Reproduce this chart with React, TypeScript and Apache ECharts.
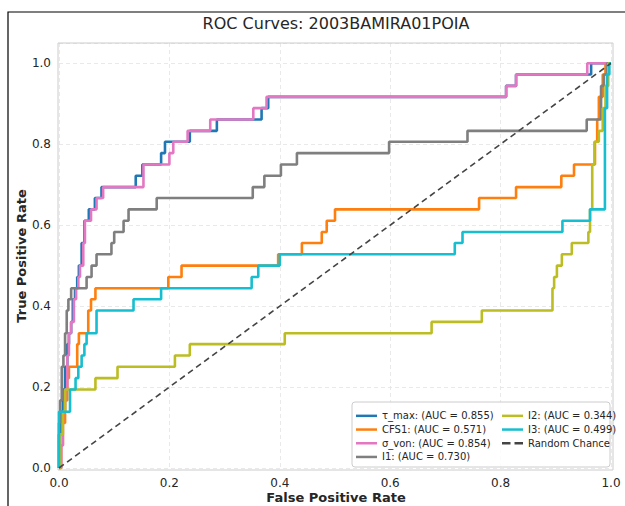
import React, { useEffect, useRef } from "react";
import * as echarts from "echarts";

const seriesNames = ["τ_max", "CFS1", "σ_von", "I1", "I2", "I3"];
const aucValues = [0.855, 0.571, 0.854, 0.73, 0.344, 0.499];
const seriesColors = ["#1f77b4", "#ff7f0e", "#e377c2", "#7f7f7f", "#bcbd22", "#17becf"];

// ROC corner points (top of each vertical run); drawn with step "end"
const tauMaxFpr = [0, 0, 0.004, 0.007, 0.011, 0.015, 0.018, 0.022, 0.025, 0.029, 0.033, 0.036, 0.041, 0.046, 0.054, 0.065, 0.077, 0.139, 0.151, 0.185, 0.192, 0.237, 0.286, 0.367, 0.379, 0.81, 0.828, 0.964, 1];
const tauMaxTpr = [0, 0.083, 0.139, 0.194, 0.25, 0.306, 0.333, 0.361, 0.417, 0.444, 0.472, 0.5, 0.556, 0.611, 0.639, 0.667, 0.694, 0.722, 0.75, 0.778, 0.806, 0.833, 0.861, 0.889, 0.917, 0.944, 0.972, 1, 1];

const cfs1Fpr = [0, 0.004, 0.007, 0.011, 0.015, 0.018, 0.033, 0.036, 0.053, 0.058, 0.066, 0.198, 0.222, 0.397, 0.44, 0.476, 0.485, 0.5, 0.761, 0.828, 0.91, 0.933, 0.971, 0.975, 0.978, 0.985, 0.99, 1];
const cfs1Tpr = [0, 0.056, 0.111, 0.167, 0.222, 0.25, 0.306, 0.333, 0.389, 0.417, 0.444, 0.472, 0.5, 0.528, 0.556, 0.583, 0.611, 0.639, 0.667, 0.694, 0.722, 0.75, 0.806, 0.861, 0.917, 0.972, 1, 1];

const sigmaVonFpr = [0, 0.004, 0.007, 0.011, 0.015, 0.018, 0.022, 0.027, 0.031, 0.035, 0.038, 0.044, 0.047, 0.058, 0.068, 0.08, 0.153, 0.2, 0.207, 0.233, 0.274, 0.352, 0.376, 0.81, 0.828, 0.957, 1];
const sigmaVonTpr = [0, 0.056, 0.139, 0.194, 0.278, 0.333, 0.361, 0.417, 0.444, 0.472, 0.5, 0.556, 0.611, 0.639, 0.667, 0.694, 0.75, 0.778, 0.806, 0.833, 0.861, 0.889, 0.917, 0.944, 0.972, 1, 1];

const i1Fpr = [0, 0, 0.002, 0.005, 0.008, 0.011, 0.014, 0.017, 0.022, 0.05, 0.059, 0.068, 0.095, 0.1, 0.117, 0.126, 0.177, 0.351, 0.372, 0.402, 0.431, 0.598, 0.74, 0.956, 0.982, 0.987, 0.993, 1];
const i1Tpr = [0, 0.111, 0.167, 0.25, 0.278, 0.333, 0.389, 0.417, 0.444, 0.472, 0.5, 0.528, 0.556, 0.583, 0.611, 0.639, 0.667, 0.694, 0.722, 0.75, 0.778, 0.806, 0.833, 0.861, 0.944, 0.972, 1, 1];

const i2Fpr = [0, 0.002, 0.007, 0.011, 0.066, 0.106, 0.21, 0.237, 0.409, 0.675, 0.766, 0.894, 0.897, 0.902, 0.911, 0.929, 0.959, 0.962, 0.966, 0.97, 0.978, 0.985, 0.99, 0.995, 1];
const i2Tpr = [0, 0.083, 0.139, 0.194, 0.222, 0.25, 0.278, 0.306, 0.333, 0.361, 0.389, 0.444, 0.472, 0.5, 0.528, 0.556, 0.583, 0.639, 0.75, 0.806, 0.833, 0.889, 0.944, 1, 1];

const i3Fpr = [0, 0, 0.02, 0.03, 0.035, 0.041, 0.046, 0.05, 0.068, 0.135, 0.185, 0.349, 0.361, 0.4, 0.717, 0.731, 0.912, 0.962, 0.989, 0.993, 0.997, 1];
const i3Tpr = [0, 0.139, 0.194, 0.222, 0.25, 0.278, 0.306, 0.333, 0.389, 0.417, 0.444, 0.472, 0.5, 0.528, 0.556, 0.583, 0.611, 0.639, 0.889, 0.972, 1, 1];

const chanceFpr = [0, 1];
const chanceTpr = [0, 1];

const tickValues = [0, 0.2, 0.4, 0.6, 0.8, 1.0];

const allFpr = [tauMaxFpr, cfs1Fpr, sigmaVonFpr, i1Fpr, i2Fpr, i3Fpr];
const allTpr = [tauMaxTpr, cfs1Tpr, sigmaVonTpr, i1Tpr, i2Tpr, i3Tpr];

const FONT = "DejaVu Sans";

export default function App() {
  const ref = useRef<HTMLDivElement>(null);
  useEffect(() => {
    if (!ref.current) return;
    const chart = echarts.init(ref.current, null, { renderer: "svg" });
    const labels = seriesNames.map((n, i) => `${n}: (AUC = ${aucValues[i].toFixed(3)})`);
    const series: any[] = seriesNames.map((n, i) => ({
      type: "line",
      name: labels[i],
      data: allFpr[i].map((x, k) => [x, allTpr[i][k]]),
      step: "end",
      symbol: "none",
      showSymbol: false,
      clip: false,
      lineStyle: { width: 2.6, color: seriesColors[i] },
      itemStyle: { color: seriesColors[i] },
      z: 2 + i * 0.01,
    }));
    series.push({
      type: "line",
      name: "Random Chance",
      data: chanceFpr.map((x, k) => [x, chanceTpr[k]]),
      symbol: "none",
      showSymbol: false,
      clip: false,
      lineStyle: { width: 1.6, color: "#444444", type: [6, 4] },
      itemStyle: { color: "#444444" },
    });
    const legendCommon = {
      orient: "vertical",
      top: 409,
      itemWidth: 21,
      itemHeight: 2.5,
      itemGap: 0,
      padding: 0,
      icon: "rect",
      z: 5,
      textStyle: { fontFamily: FONT, fontSize: 10, color: "#262626", lineHeight: 13.7 },
    };
    chart.setOption({
      animation: false,
      backgroundColor: "#ffffff",
      grid: { left: 59, right: 14, top: 43, bottom: 38, containLabel: false },
      xAxis: {
        type: "value",
        min: 0,
        max: 1,
        interval: 0.2,
        axisLine: { show: false },
        axisTick: { show: false },
        splitLine: { show: true, lineStyle: { color: "#e3e3e3", type: [4, 3], width: 0.8 } },
        axisLabel: {
          fontFamily: FONT,
          fontSize: 12,
          color: "#262626",
          margin: 9,
          formatter: (v: number) => (tickValues.some((t) => Math.abs(t - v) < 1e-9) ? v.toFixed(1) : ""),
        },
      },
      yAxis: {
        type: "value",
        min: 0,
        max: 1.05,
        interval: 0.2,
        axisLine: { show: false },
        axisTick: { show: false },
        splitLine: { show: true, lineStyle: { color: "#e3e3e3", type: [4, 3], width: 0.8 } },
        axisLabel: {
          fontFamily: FONT,
          fontSize: 12,
          color: "#262626",
          margin: 8,
          showMaxLabel: false,
          formatter: (v: number) => (tickValues.some((t) => Math.abs(t - v) < 1e-9) ? v.toFixed(1) : ""),
        },
      },
      legend: [
        { ...legendCommon, left: 356, data: labels.slice(0, 4) },
        {
          ...legendCommon,
          left: 502,
          data: [
            labels[4],
            labels[5],
            { name: "Random Chance", icon: "path://M0,0h8.5v2.5h-8.5z M12.5,0h8.5v2.5h-8.5z" },
          ],
        },
      ],
      graphic: [
        {
          type: "rect",
          shape: { x: 8, y: 12, width: 640, height: 520 },
          style: { fill: "none", stroke: "#000000", lineWidth: 1.2 },
          z: 0,
        },
        {
          type: "rect",
          shape: { x: 58, y: 43, width: 555, height: 427 },
          style: { fill: "none", stroke: "#cccccc", lineWidth: 1 },
          z: 1,
        },
        {
          type: "rect",
          shape: { x: 352, y: 402, width: 258, height: 65, r: 3 },
          style: { fill: "rgba(255,255,255,0.85)", stroke: "#cccccc", lineWidth: 1 },
          z: 3,
        },
        {
          type: "text",
          x: 336,
          y: 23,
          style: {
            text: "ROC Curves: 2003BAMIRA01POIA",
            fontFamily: FONT,
            fontSize: 16,
            fill: "#262626",
            textAlign: "center",
            textVerticalAlign: "middle",
          },
        },
        {
          type: "text",
          x: 336,
          y: 497,
          style: {
            text: "False Positive Rate",
            fontFamily: FONT,
            fontSize: 13,
            fontWeight: "bold",
            fill: "#262626",
            textAlign: "center",
            textVerticalAlign: "middle",
          },
        },
        {
          type: "text",
          x: 21,
          y: 256,
          rotation: Math.PI / 2,
          style: {
            text: "True Positive Rate",
            fontFamily: FONT,
            fontSize: 13,
            fontWeight: "bold",
            fill: "#262626",
            textAlign: "center",
            textVerticalAlign: "middle",
          },
        },
      ],
      series,
    });
    return () => chart.dispose();
  }, []);
  return <div ref={ref} style={{ position: "fixed", left: 0, top: 0, width: 625, height: 506 }} />;
}
